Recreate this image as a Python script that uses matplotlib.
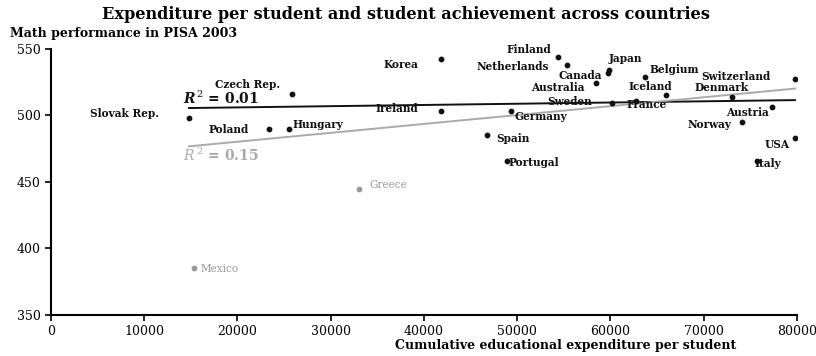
import numpy as np
import matplotlib
matplotlib.use("Agg")
import matplotlib.pyplot as plt

plt.rcParams['font.family'] = ['DejaVu Serif']
plt.rcParams['mathtext.fontset'] = 'dejavuserif'

# country data: cumulative expenditure per student (USD) and PISA 2003 math score
countries = ["Korea", "Czech Rep.", "Slovak Rep.", "Poland", "Hungary", "Ireland",
             "Finland", "Netherlands", "Canada", "Japan", "Belgium", "Australia",
             "Iceland", "Switzerland", "Denmark", "Sweden", "France", "Germany",
             "Austria", "Norway", "Spain", "USA", "Portugal", "Italy"]
spend = [41800, 25900, 14800, 23400, 25500, 41800,
         54400, 55400, 59700, 59900, 63700, 58500,
         66000, 79800, 73000, 60200, 62700, 49300,
         77300, 74100, 46800, 79800, 48900, 75700]
math = [542, 516, 498, 490, 490, 503,
        544, 538, 532, 534, 529, 524,
        515, 527, 514, 509, 511, 503,
        506, 495, 485, 483, 466, 466]

outlier_countries = ["Greece", "Mexico"]
outlier_spend = [33000, 15300]
outlier_math = [445, 385]

# label placement (pixel offsets from the point, horizontal alignment)
label_pos = {
    "Korea": (-22, -5, "right"), "Czech Rep.": (-45, 10, "center"),
    "Slovak Rep.": (-30, 5, "right"), "Poland": (-20, -1, "right"),
    "Hungary": (4, 4, "left"), "Ireland": (-22, 3, "right"),
    "Finland": (-7, 7, "right"), "Netherlands": (-19, -2, "right"),
    "Canada": (-6, -3, "right"), "Japan": (-1, 12, "left"),
    "Belgium": (5, 7, "left"), "Australia": (-12, -4, "right"),
    "Iceland": (-16, 9, "center"), "Switzerland": (-24, 3, "right"),
    "Denmark": (-10, 9, "center"), "Sweden": (-20, 2, "right"),
    "France": (-9, -4, "left"), "Germany": (4, -5, "left"),
    "Austria": (-3, -5, "right"), "Norway": (-10, -2, "right"),
    "Spain": (9, -3, "left"), "USA": (-5, -7, "right"),
    "Portugal": (2, -2, "left"), "Italy": (-2, -3, "left"),
    "Greece": (11, 4, "left"), "Mexico": (7, -1, "left"),
}

fig = plt.figure(figsize=(8.16, 3.56), dpi=100)
ax = fig.add_axes([0.0625, 0.115, 0.914, 0.748])

ax.scatter(spend, math, s=10, color="#111111", zorder=3)
ax.scatter(outlier_spend, outlier_math, s=10, color="#999999", zorder=3)

for name, x, y in zip(countries, spend, math):
    dx, dy, ha = label_pos[name]
    ax.annotate(name, (x, y), xytext=(dx, dy), textcoords="offset pixels",
                ha=ha, va="center", fontsize=7.6, fontweight="bold", color="#111111")
for name, x, y in zip(outlier_countries, outlier_spend, outlier_math):
    dx, dy, ha = label_pos[name]
    ax.annotate(name, (x, y), xytext=(dx, dy), textcoords="offset pixels",
                ha=ha, va="center", fontsize=7.6, color="#999999")

# trend lines: without outliers (black) and with all countries (grey)
xs = np.array([min(spend), max(spend)])
p1 = np.polyfit(spend, math, 1)
all_x = spend + outlier_spend
all_y = math + outlier_math
p2 = np.polyfit(all_x, all_y, 1)
ax.plot(xs, np.polyval(p1, xs), color="#111111", lw=1.4, zorder=2)
ax.plot(xs, np.polyval(p2, xs), color="#aaaaaa", lw=1.4, zorder=2)

ax.text(14200, 513, r"$\boldsymbol{R}^{\,2}$ = 0.01", fontsize=10, fontweight="bold",
        color="#111111", ha="left", va="center")
ax.text(14200, 470, r"$R^{\,2}$ = 0.15", fontsize=10, fontweight="bold",
        color="#aaaaaa", ha="left", va="center")

ax.set_xlim(0, 80000)
ax.set_ylim(350, 550)
ax.set_xticks(np.arange(0, 80001, 10000))
ax.set_yticks([350, 400, 450, 500, 550])
ax.tick_params(labelsize=9, direction="out", length=4, width=1.2)
for s in ["top", "right"]:
    ax.spines[s].set_visible(False)
for s in ["left", "bottom"]:
    ax.spines[s].set_linewidth(1.5)

fig.text(0.497, 0.96, "Expenditure per student and student achievement across countries",
         ha="center", va="center", fontsize=11.6, fontweight="bold")
fig.text(0.012, 0.905, "Math performance in PISA 2003", ha="left", va="center",
         fontsize=9, fontweight="bold")
ax.set_xlabel("Cumulative educational expenditure per student", fontsize=9,
              fontweight="bold", labelpad=1)
ax.xaxis.set_label_coords(0.69, -0.09)

fig.savefig("out.png", dpi=100)
